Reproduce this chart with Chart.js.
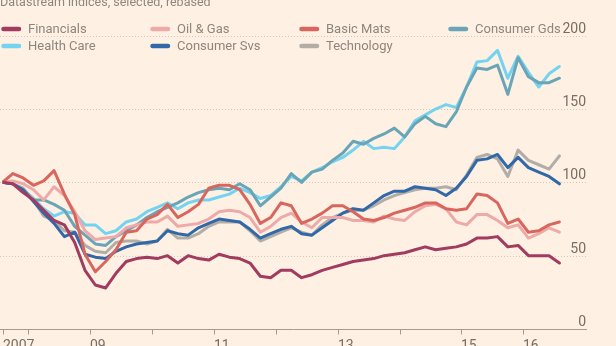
<!DOCTYPE html>
<html>
<head>
<meta charset="utf-8">
<script src="https://cdn.jsdelivr.net/npm/chart.js@4.4.1/dist/chart.umd.min.js"></script>
<style>
  html, body { margin: 0; padding: 0; background: #fef1e3; }
  #wrap { width: 616px; height: 346px; position: relative; overflow: hidden; }
  canvas { display: block; }
</style>
</head>
<body>
<div id="wrap"><canvas id="chart" width="616" height="346"></canvas></div>
<script>
// Datastream sector indices, rebased to 100, sampled every two months
const dates = [
  '2007-08','2007-10','2007-12',
  '2008-02','2008-04','2008-06','2008-08','2008-10','2008-12',
  '2009-02','2009-04','2009-06','2009-08','2009-10','2009-12',
  '2010-02','2010-04','2010-06','2010-08','2010-10','2010-12',
  '2011-02','2011-04','2011-06','2011-08','2011-10','2011-12',
  '2012-02','2012-04','2012-06','2012-08','2012-10','2012-12',
  '2013-02','2013-04','2013-06','2013-08','2013-10','2013-12',
  '2014-02','2014-04','2014-06','2014-08','2014-10','2014-12',
  '2015-02','2015-04','2015-06','2015-08','2015-10','2015-12',
  '2016-02','2016-04','2016-06','2016-08'
];

const financials  = [100,99,93,88,81,74,71,59,40,30, 28,38,46,48,49,48,50,45,50,48, 47,51,49,48,45,36,35,40,40,35, 37,40,42,44,46,47,48,50,51,52, 54,56,54,55,56,58,62,62,63,56, 57,50,50,50,45];
const oilGas      = [100,101,99,95,88,97,91,80,67,61, 62,63,69,71,73,73,77,70,71,72, 75,80,81,80,76,66,70,76,79,73, 69,76,76,76,74,74,73,77,75,74, 80,84,85,82,73,71,78,78,74,69, 71,62,65,69,66];
const basicMats   = [100,106,103,98,101,108,92,78,51,39, 46,54,66,67,75,78,85,76,80,85, 96,98,98,95,85,72,76,86,84,72, 75,79,84,84,80,75,74,76,79,81, 83,86,86,82,81,82,92,91,86,72, 75,66,67,71,73];
const consumerGds = [100,99,95,88,88,85,81,70,64,58, 57,63,67,71,76,80,83,86,90,93, 95,96,95,99,95,84,90,96,106,100, 107,109,115,120,128,126,130,133,137,131, 140,145,140,138,148,165,178,177,180,160, 185,172,168,168,171];
const healthCare  = [100,99,95,89,82,77,80,79,71,71, 65,67,73,75,80,83,86,82,86,88, 88,90,92,96,93,89,91,97,104,101, 107,110,114,117,122,128,123,124,123,131, 142,146,150,153,151,165,182,183,190,171, 186,175,165,174,179];
const consumerSvs = [100,99,95,87,79,72,63,66,51,49, 48,53,56,58,59,60,67,65,64,69, 72,75,74,73,68,62,65,68,70,65, 64,69,74,79,82,81,86,91,94,94, 97,96,95,91,96,104,115,116,119,110, 117,110,107,104,99];
const technology  = [100,99,96,88,77,74,67,66,57,53, 52,59,60,60,58,60,68,62,62,65, 70,73,73,73,67,60,63,66,69,66, 64,71,76,79,81,81,84,88,91,93, 95,96,96,97,95,105,117,119,116,104, 122,115,112,109,118];

// Axis ticks
const yTicks = [0, 50, 100, 150, 200];
const xTicks = [2007.583, 2008, 2009, 2010, 2011, 2012, 2013, 2014, 2015, 2016];
const xTickLabels = ['2007', '', '09', '', '11', '', '13', '', '15', '16'];

// Legend layout: two rows
const legendRows = [
  ['Financials', 'Oil & Gas', 'Basic Mats', 'Consumer Gds'],
  ['Health Care', 'Consumer Svs', 'Technology']
];

const toYear = s => { const [y, m] = s.split('-').map(Number); return y + (m - 1) / 12; };
const pts = arr => arr.map((v, i) => ({ x: toYear(dates[i]), y: v }));

// Listed top-most first (Chart.js paints the first dataset last)
const series = [
  { label: 'Financials',   data: financials,  color: '#a13b5f' },
  { label: 'Basic Mats',   data: basicMats,   color: '#d9665e' },
  { label: 'Oil & Gas',    data: oilGas,      color: '#eeaaa8' },
  { label: 'Consumer Svs', data: consumerSvs, color: '#3068a8' },
  { label: 'Technology',   data: technology,  color: '#b2aea7' },
  { label: 'Consumer Gds', data: consumerGds, color: '#69a5b6' },
  { label: 'Health Care',  data: healthCare,  color: '#74d3f0' }
];
const colorOf = name => series.find(s => s.label === name).color;

const FONT = 'Roboto, "Liberation Sans", sans-serif';

const decor = {
  id: 'decor',
  beforeDatasetsDraw(chart) {
    const { ctx, scales: { x, y } } = chart;
    const left = 0, right = x.getPixelForValue(x.max);
    ctx.save();
    // dotted gridlines
    ctx.strokeStyle = '#d3c8bc';
    ctx.lineWidth = 1;
    ctx.setLineDash([1, 2]);
    yTicks.forEach(v => {
      if (v === 0) return;
      const py = Math.round(y.getPixelForValue(v)) + 0.5;
      ctx.beginPath(); ctx.moveTo(left, py); ctx.lineTo(right, py); ctx.stroke();
    });
    ctx.setLineDash([]);
    // baseline and year ticks
    const by = Math.round(y.getPixelForValue(0)) + 0.5;
    ctx.strokeStyle = '#a59c91';
    ctx.beginPath(); ctx.moveTo(left, by); ctx.lineTo(right, by); ctx.stroke();
    xTicks.forEach(t => {
      const px = Math.round(x.getPixelForValue(t)) + 0.5;
      ctx.beginPath(); ctx.moveTo(px, by); ctx.lineTo(px, by + 5); ctx.stroke();
    });
    ctx.restore();
  },
  afterDatasetsDraw(chart) {
    const { ctx, scales: { x, y } } = chart;
    ctx.save();
    // value labels on the right, sitting above their gridlines
    ctx.font = '14px ' + FONT;
    ctx.fillStyle = '#776e66';
    ctx.textAlign = 'right';
    ctx.textBaseline = 'alphabetic';
    yTicks.forEach(v => {
      ctx.fillText(String(v), 586, y.getPixelForValue(v) - 3);
    });
    // year labels, left-aligned on their ticks
    ctx.textAlign = 'left';
    xTicks.forEach((t, i) => {
      if (!xTickLabels[i]) return;
      ctx.fillText(xTickLabels[i], Math.round(x.getPixelForValue(t)), 350);
    });
    // subtitle
    ctx.font = '12.5px ' + FONT;
    ctx.fillStyle = '#8e867e';
    ctx.fillText('Datastream indices, selected, rebased', 0, 5.5);
    // legend
    const colX = [2, 151, 300, 449];
    const rowY = [29, 46];
    ctx.font = '13px ' + FONT;
    legendRows.forEach((row, r) => {
      row.forEach((name, c) => {
        const sx = colX[c], sy = rowY[r];
        ctx.strokeStyle = colorOf(name);
        ctx.lineWidth = 4.5;
        ctx.lineCap = 'round';
        ctx.beginPath(); ctx.moveTo(sx + 1.5, sy); ctx.lineTo(sx + 17, sy); ctx.stroke();
        ctx.fillStyle = '#8e867e';
        ctx.textBaseline = 'middle';
        ctx.fillText(name, sx + 26, sy + 0.5);
      });
    });
    ctx.restore();
  }
};

new Chart(document.getElementById('chart'), {
  type: 'line',
  data: {
    datasets: series.map(s => ({
      label: s.label,
      data: pts(s.data),
      borderColor: s.color,
      backgroundColor: s.color,
      borderWidth: 3,
      pointRadius: 0,
      tension: 0,
      borderJoinStyle: 'round',
      borderCapStyle: 'round'
    }))
  },
  options: {
    responsive: false,
    animation: false,
    events: [],
    layout: { padding: { left: 2.5, right: 29, top: 35.7, bottom: 17 } },
    plugins: { legend: { display: false }, tooltip: { enabled: false } },
    scales: {
      x: { type: 'linear', min: 2007.583, max: 2017.03, display: false },
      y: { type: 'linear', min: 0, max: 200, display: false }
    }
  },
  plugins: [decor]
});
</script>
</body>
</html>
